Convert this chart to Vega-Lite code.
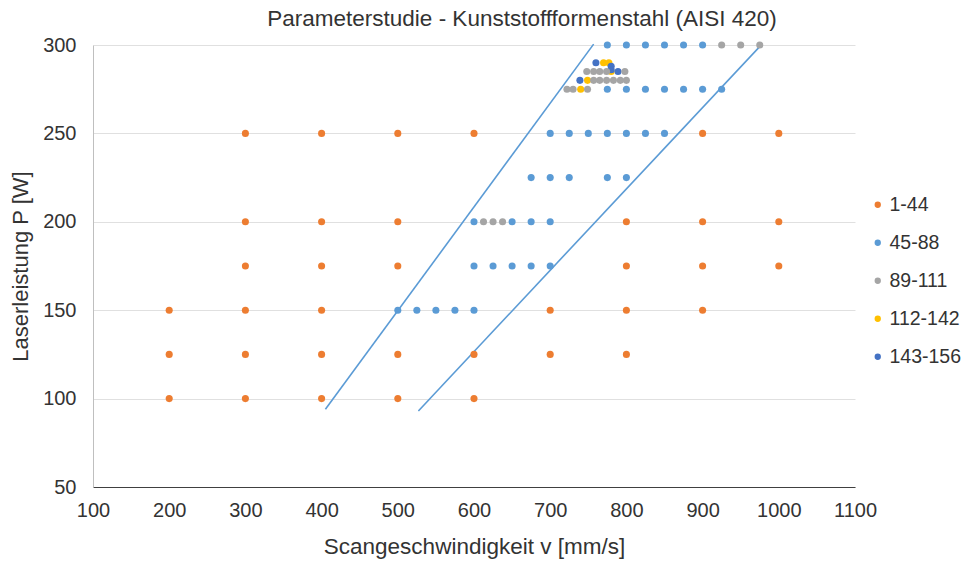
{
  "$schema": "https://vega.github.io/schema/vega-lite/v6.json",
  "autosize": "none",
  "width": 762,
  "height": 442,
  "padding": {"left": 93, "top": 45, "right": 109, "bottom": 76},
  "background": "white",
  "title": {
    "text": "Parameterstudie - Kunststoffformenstahl (AISI 420)",
    "font": "Liberation Sans",
    "fontSize": 22.5,
    "fontWeight": "normal",
    "color": "#333333",
    "baseline": "alphabetic",
    "offset": -13,
    "dx": 48,
    "anchor": "middle"
  },
  "config": {
    "view": {"stroke": null},
    "font": "Liberation Sans"
  },
  "datasets": {
    "points": [
      {"v": 200, "p": 150, "s": "1-44"}, {"v": 200, "p": 125, "s": "1-44"}, {"v": 200, "p": 100, "s": "1-44"},
      {"v": 300, "p": 250, "s": "1-44"}, {"v": 300, "p": 200, "s": "1-44"}, {"v": 300, "p": 175, "s": "1-44"}, {"v": 300, "p": 150, "s": "1-44"}, {"v": 300, "p": 125, "s": "1-44"}, {"v": 300, "p": 100, "s": "1-44"},
      {"v": 400, "p": 250, "s": "1-44"}, {"v": 400, "p": 200, "s": "1-44"}, {"v": 400, "p": 175, "s": "1-44"}, {"v": 400, "p": 150, "s": "1-44"}, {"v": 400, "p": 125, "s": "1-44"}, {"v": 400, "p": 100, "s": "1-44"},
      {"v": 500, "p": 250, "s": "1-44"}, {"v": 500, "p": 200, "s": "1-44"}, {"v": 500, "p": 175, "s": "1-44"}, {"v": 500, "p": 125, "s": "1-44"}, {"v": 500, "p": 100, "s": "1-44"},
      {"v": 600, "p": 250, "s": "1-44"}, {"v": 600, "p": 125, "s": "1-44"}, {"v": 600, "p": 100, "s": "1-44"},
      {"v": 700, "p": 150, "s": "1-44"}, {"v": 700, "p": 125, "s": "1-44"},
      {"v": 800, "p": 200, "s": "1-44"}, {"v": 800, "p": 175, "s": "1-44"}, {"v": 800, "p": 150, "s": "1-44"}, {"v": 800, "p": 125, "s": "1-44"},
      {"v": 900, "p": 250, "s": "1-44"}, {"v": 900, "p": 200, "s": "1-44"}, {"v": 900, "p": 175, "s": "1-44"}, {"v": 900, "p": 150, "s": "1-44"},
      {"v": 1000, "p": 250, "s": "1-44"}, {"v": 1000, "p": 200, "s": "1-44"}, {"v": 1000, "p": 175, "s": "1-44"},

      {"v": 500, "p": 150, "s": "45-88"}, {"v": 525, "p": 150, "s": "45-88"}, {"v": 550, "p": 150, "s": "45-88"}, {"v": 575, "p": 150, "s": "45-88"}, {"v": 600, "p": 150, "s": "45-88"},
      {"v": 600, "p": 175, "s": "45-88"}, {"v": 625, "p": 175, "s": "45-88"}, {"v": 650, "p": 175, "s": "45-88"}, {"v": 675, "p": 175, "s": "45-88"}, {"v": 700, "p": 175, "s": "45-88"},
      {"v": 600, "p": 200, "s": "45-88"}, {"v": 650, "p": 200, "s": "45-88"}, {"v": 675, "p": 200, "s": "45-88"}, {"v": 700, "p": 200, "s": "45-88"},
      {"v": 675, "p": 225, "s": "45-88"}, {"v": 700, "p": 225, "s": "45-88"}, {"v": 725, "p": 225, "s": "45-88"}, {"v": 775, "p": 225, "s": "45-88"}, {"v": 800, "p": 225, "s": "45-88"},
      {"v": 700, "p": 250, "s": "45-88"}, {"v": 725, "p": 250, "s": "45-88"}, {"v": 750, "p": 250, "s": "45-88"}, {"v": 775, "p": 250, "s": "45-88"}, {"v": 800, "p": 250, "s": "45-88"}, {"v": 825, "p": 250, "s": "45-88"}, {"v": 850, "p": 250, "s": "45-88"},
      {"v": 775, "p": 275, "s": "45-88"}, {"v": 800, "p": 275, "s": "45-88"}, {"v": 825, "p": 275, "s": "45-88"}, {"v": 850, "p": 275, "s": "45-88"}, {"v": 875, "p": 275, "s": "45-88"}, {"v": 900, "p": 275, "s": "45-88"}, {"v": 925, "p": 275, "s": "45-88"},
      {"v": 775, "p": 300, "s": "45-88"}, {"v": 800, "p": 300, "s": "45-88"}, {"v": 825, "p": 300, "s": "45-88"}, {"v": 850, "p": 300, "s": "45-88"}, {"v": 875, "p": 300, "s": "45-88"}, {"v": 900, "p": 300, "s": "45-88"},

      {"v": 612.5, "p": 200, "s": "89-111"}, {"v": 625, "p": 200, "s": "89-111"}, {"v": 637.5, "p": 200, "s": "89-111"},
      {"v": 722, "p": 275, "s": "89-111"}, {"v": 730, "p": 275, "s": "89-111"}, {"v": 749, "p": 275, "s": "89-111"},
      {"v": 757, "p": 280, "s": "89-111"}, {"v": 765, "p": 280, "s": "89-111"}, {"v": 774, "p": 280, "s": "89-111"}, {"v": 783, "p": 280, "s": "89-111"}, {"v": 792, "p": 280, "s": "89-111"}, {"v": 800, "p": 280, "s": "89-111"},
      {"v": 748, "p": 285, "s": "89-111"}, {"v": 757, "p": 285, "s": "89-111"}, {"v": 765, "p": 285, "s": "89-111"}, {"v": 774, "p": 285, "s": "89-111"}, {"v": 798, "p": 285, "s": "89-111"},
      {"v": 925, "p": 300, "s": "89-111"}, {"v": 950, "p": 300, "s": "89-111"}, {"v": 975, "p": 300, "s": "89-111"},

      {"v": 740, "p": 275, "s": "112-142"}, {"v": 749, "p": 280, "s": "112-142"}, {"v": 770, "p": 290, "s": "112-142"}, {"v": 777, "p": 290, "s": "112-142"}, {"v": 780, "p": 285, "s": "112-142"},

      {"v": 739, "p": 280, "s": "143-156"}, {"v": 760, "p": 290, "s": "143-156"}, {"v": 780, "p": 288, "s": "143-156"}, {"v": 780, "p": 286, "s": "143-156"}, {"v": 789, "p": 285, "s": "143-156"}
    ],
    "lines": [
      {"id": "a", "v": 405, "p": 94},
      {"id": "a", "v": 757, "p": 300.5},
      {"id": "b", "v": 527, "p": 93},
      {"id": "b", "v": 978, "p": 300.5}
    ]
  },
  "layer": [
    {
      "data": {"name": "lines"},
      "mark": {"type": "line", "color": "#5B9BD5", "strokeWidth": 1.6, "clip": false},
      "encoding": {
        "x": {"field": "v", "type": "quantitative"},
        "y": {"field": "p", "type": "quantitative"},
        "detail": {"field": "id"}
      }
    },
    {
      "data": {"name": "points"},
      "mark": {"type": "circle", "size": 50, "opacity": 1},
      "encoding": {
        "x": {
          "field": "v", "type": "quantitative",
          "scale": {"domain": [100, 1100], "nice": false, "zero": false},
          "axis": {
            "title": "Scangeschwindigkeit v [mm/s]",
            "values": [100, 200, 300, 400, 500, 600, 700, 800, 900, 1000, 1100],
            "format": "d",
            "grid": false,
            "ticks": false,
            "domainColor": "#404040",
            "domainWidth": 1,
            "labelFont": "Liberation Sans",
            "labelFontSize": 20,
            "labelColor": "#333333",
            "labelPadding": 13,
            "labelFlush": false,
            "titleFont": "Liberation Sans",
            "titleFontSize": 22.5,
            "titleFontWeight": "normal",
            "titleColor": "#333333",
            "titlePadding": 15
          }
        },
        "y": {
          "field": "p", "type": "quantitative",
          "scale": {"domain": [50, 300], "nice": false, "zero": false},
          "axis": {
            "title": "Laserleistung P [W]",
            "values": [50, 100, 150, 200, 250, 300],
            "format": "d",
            "grid": true,
            "gridColor": "#e0e0e0",
            "gridWidth": 1,
            "ticks": false,
            "domainColor": "#bfbfbf",
            "labelFont": "Liberation Sans",
            "labelFontSize": 20,
            "labelColor": "#333333",
            "labelPadding": 17,
            "labelFlush": false,
            "titleFont": "Liberation Sans",
            "titleFontSize": 22,
            "titleFontWeight": "normal",
            "titleColor": "#333333",
            "titlePadding": 10
          }
        },
        "color": {
          "field": "s", "type": "nominal",
          "scale": {
            "domain": ["1-44", "45-88", "89-111", "112-142", "143-156"],
            "range": ["#ED7D31", "#5B9BD5", "#A5A5A5", "#FFC000", "#4472C4"]
          },
          "legend": {
            "title": null,
            "orient": "none",
            "legendX": 775,
            "legendY": 150,
            "symbolType": "circle",
            "symbolSize": 40,
            "labelFont": "Liberation Sans",
            "labelFontSize": 19.5,
            "labelColor": "#333333",
            "labelOffset": 2,
            "labelLimit": 200,
            "rowPadding": 17
          }
        },
        "order": {"field": "s", "sort": "ascending"}
      }
    }
  ]
}
